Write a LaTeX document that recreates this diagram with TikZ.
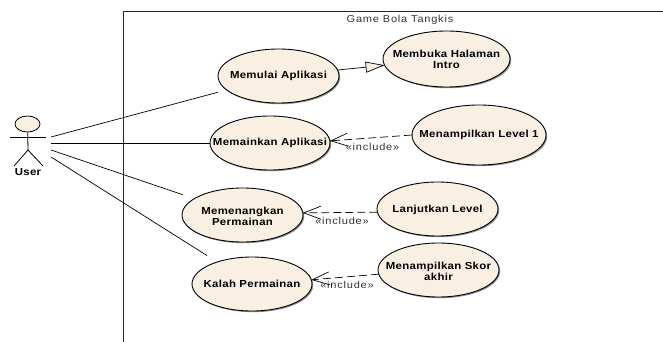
\documentclass[tikz,border=0pt]{standalone}
\usepackage{fontspec}
\setmainfont{Liberation Sans}
\newfontfamily\ucfont{Liberation Sans}[LetterSpace=3,FakeStretch=1.12,Ligatures=NoCommon]
\newfontfamily\notefont{Liberation Sans}[LetterSpace=8,FakeStretch=1.1,Ligatures=NoCommon]
\usetikzlibrary{shapes.geometric,arrows.meta,shadows}
\definecolor{ucfill}{HTML}{F9F0E3}
\definecolor{notegray}{HTML}{333333}
\tikzset{
  x=1pt,y=-1pt,
  uc/.style={ellipse,draw=black,line width=0.9pt,fill=ucfill,inner sep=0pt,outer sep=0pt,
    drop shadow={shadow xshift=1.2pt,shadow yshift=-1.2pt,opacity=.45,fill=black}},
  uclabel/.style={font=\ucfont\fontsize{10.2}{11}\selectfont\bfseries,align=center,inner sep=0pt,text=black},
  note/.style={font=\notefont\fontsize{10}{11}\selectfont,inner sep=0pt,text=notegray},
  assoc/.style={draw=black,line width=0.7pt},
  incl/.style={draw=black,line width=0.7pt,dash pattern=on 8pt off 4pt,-{Straight Barb[length=17pt,width=13pt,line width=0.7pt]}},
  gener/.style={draw=black,line width=0.7pt,-{Triangle[open,length=19pt,width=11pt,fill=ucfill,line width=0.7pt]}},
  frame/.style={draw=black!85,line width=0.9pt},
  stick/.style={draw=black,line width=0.8pt},
}
\begin{document}
\begin{tikzpicture}
\useasboundingbox (0,0) rectangle (663,342);
% boundary
\coordinate (fa) at (123,342);
\coordinate (fb) at (123,11);
\coordinate (fc) at (663,11);
\draw[frame] (fa) -- (fb) -- (fc);
\node[note] (title) at (400,20) {Game Bola Tangkis};
% actor
\node[ellipse,draw=black,line width=0.8pt,fill=ucfill,minimum width=25pt,minimum height=16pt,inner sep=0pt] (head) at (27.5,124) {};
\coordinate (armL) at (10,137);
\coordinate (armR) at (46,137);
\coordinate (hip) at (28,150);
\coordinate (legL) at (14,166);
\coordinate (legR) at (43,166);
\draw[stick] (head) -- (hip);
\draw[stick] (armL) -- (armR);
\draw[stick] (legL) -- (hip) -- (legR);
\node[uclabel] (user) at (28,172) {User};
\coordinate (u1) at (51,137);
\coordinate (u2) at (51,143);
\coordinate (u3) at (51,150);
\coordinate (u4) at (51,157);
% use cases
\node[uc,minimum width=121pt,minimum height=54pt] (memulai) at (278.5,76) {};
\node[uc,minimum width=120pt,minimum height=54pt] (memainkan) at (270,143) {};
\node[uc,minimum width=127pt,minimum height=56pt] (membuka) at (446.5,59) {};
\node[uc,minimum width=134pt,minimum height=60pt] (level) at (479,135) {};
\node[uc,minimum width=121pt,minimum height=54pt] (menang) at (242.5,215) {};
\node[uc,minimum width=121pt,minimum height=54pt] (lanjut) at (437.5,209) {};
\node[uc,minimum width=120pt,minimum height=54pt] (kalah) at (252,284) {};
\node[uc,minimum width=121pt,minimum height=54pt] (skor) at (438.5,270) {};
\node[uclabel] (tmemulai) at (memulai) {Memulai Aplikasi};
\node[uclabel] (tmemainkan) at (memainkan) {Memainkan Aplikasi};
\node[uclabel] (tmembuka) at (446.5,59.5) {Membuka Halaman\\Intro};
\node[uclabel] (tlevel) at (level) {Menampilkan Level 1};
\node[uclabel] (tmenang) at (242.5,216) {Memenangkan\\Permainan};
\node[uclabel] (tlanjut) at (437.5,210) {Lanjutkan Level};
\node[uclabel] (tkalah) at (kalah) {Kalah Permainan};
\node[uclabel] (tskor) at (438.5,271) {Menampilkan Skor\\akhir};
% connectors
\draw[assoc,shorten >=9pt] (u1) -- (memulai);
\draw[assoc] (u2) -- (memainkan);
\draw[assoc,shorten >=12pt] (u3) -- (menang);
\draw[assoc,shorten >=12pt] (u4) -- (kalah);
\draw[gener] (memulai) -- (membuka);
\draw[incl] (level.180) -- (memainkan.2);
\draw[incl] (lanjut.183) -- (menang.2);
\draw[incl] (skor.184) -- (kalah.4);
\node[note] (n1) at (372.5,147) {«include»};
\node[note] (n2) at (342,221) {«include»};
\node[note] (n3) at (347,285) {«include»};
\end{tikzpicture}
\end{document}
